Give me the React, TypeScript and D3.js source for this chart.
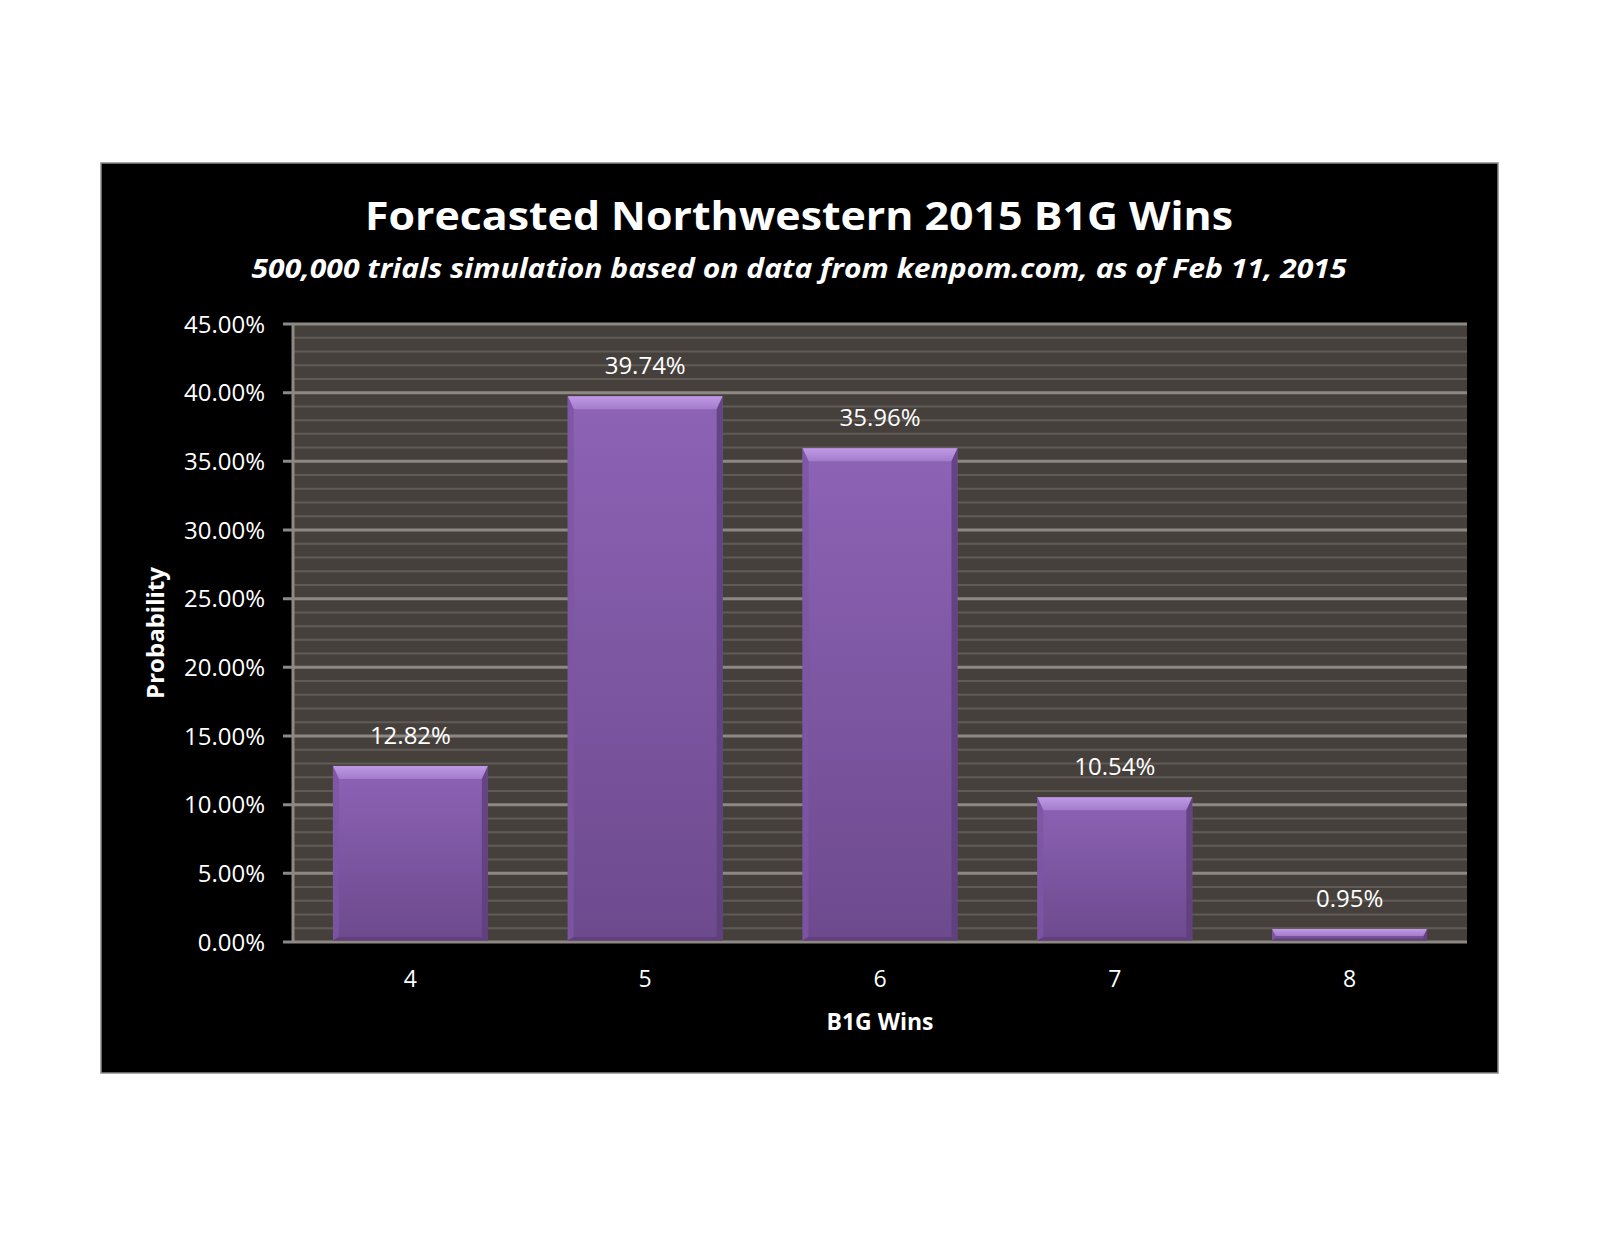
import React from "react";
import * as d3 from "d3";

const categories = ["4", "5", "6", "7", "8"];
const values = [12.82, 39.74, 35.96, 10.54, 0.95];
const yTicks = [0, 5, 10, 15, 20, 25, 30, 35, 40, 45];
const minorTicks = d3.range(0, 46, 1);

const W = 1600;
const H = 1237;
const panel = { x: 101, y: 163, w: 1397, h: 910 };
const plot = { left: 293, right: 1467, top: 324, bottom: 942 };
const FONT = "'Open Sans', 'Noto Sans', sans-serif";

export default function App() {
  const x = d3
    .scaleBand<string>()
    .domain(categories)
    .range([plot.left, plot.right])
    .paddingInner(0.34)
    .paddingOuter(0.17);
  const y = d3.scaleLinear().domain([0, 45]).range([plot.bottom, plot.top]);
  const fmt = (v: number) => v.toFixed(2) + "%";

  return (
    <svg
      width={W}
      height={H}
      viewBox={`0 0 ${W} ${H}`}
      style={{ position: "absolute", left: 0, top: 0, background: "#fff" }}
    >
      <defs>
        <linearGradient id="barFace" x1="0" y1="0" x2="0" y2="1">
          <stop offset="0%" stopColor="#8d63b6" />
          <stop offset="100%" stopColor="#6d4a8e" />
        </linearGradient>
        <linearGradient id="barTop" x1="0" y1="0" x2="0" y2="1">
          <stop offset="0%" stopColor="#c19ae6" />
          <stop offset="100%" stopColor="#a27bcb" />
        </linearGradient>
      </defs>
      <rect x={0} y={0} width={W} height={H} fill="#ffffff" />
      <rect
        x={panel.x}
        y={panel.y}
        width={panel.w}
        height={panel.h}
        fill="#000000"
        stroke="#8a8a8a"
        strokeWidth={1.5}
      />
      {/* plot background */}
      <rect
        x={plot.left}
        y={plot.top}
        width={plot.right - plot.left}
        height={plot.bottom - plot.top}
        fill="#45403c"
      />
      {/* minor gridlines */}
      {minorTicks
        .filter((t) => t % 5 !== 0)
        .map((t) => (
          <line
            key={"m" + t}
            x1={plot.left}
            x2={plot.right}
            y1={y(t)}
            y2={y(t)}
            stroke="#615b56"
            strokeWidth={2}
          />
        ))}
      {/* major gridlines */}
      {yTicks.map((t) => (
        <line
          key={"g" + t}
          x1={plot.left - 10}
          x2={plot.right}
          y1={y(t)}
          y2={y(t)}
          stroke="#8e8883"
          strokeWidth={3}
        />
      ))}
      {/* y axis line */}
      <line
        x1={plot.left}
        x2={plot.left}
        y1={plot.top}
        y2={plot.bottom}
        stroke="#8e8883"
        strokeWidth={3}
      />
      {/* bars */}
      {values.map((v, i) => {
        const bx = x(categories[i])!;
        const bw = x.bandwidth();
        const top = y(v);
        const bot = y(0) - 1.5;
        const h = bot - top;
        const bt = Math.min(13, h * 0.6);
        const bs = Math.min(6, h * 0.3);
        return (
          <g key={"b" + i}>
            <rect x={bx} y={top} width={bw} height={h} fill="url(#barFace)" />
            <polygon
              points={`${bx},${top} ${bx + bw},${top} ${bx + bw - bs},${top + bt} ${bx + bs},${top + bt}`}
              fill="url(#barTop)"
            />
            <polygon
              points={`${bx},${top} ${bx + bs},${top + bt} ${bx + bs},${bot - bs * 0.6} ${bx},${bot}`}
              fill="#7d56a3"
              opacity={0.85}
            />
            <polygon
              points={`${bx + bw},${top} ${bx + bw - bs},${top + bt} ${bx + bw - bs},${bot - bs * 0.6} ${bx + bw},${bot}`}
              fill="#5e3f7c"
              opacity={0.85}
            />
            <polygon
              points={`${bx},${bot} ${bx + bs},${bot - bs * 0.6} ${bx + bw - bs},${bot - bs * 0.6} ${bx + bw},${bot}`}
              fill="#5c3d78"
              opacity={0.8}
            />
            <text
              x={bx + bw / 2}
              y={top - 22}
              textAnchor="middle"
              fill="#ffffff"
              fontFamily={FONT}
              fontSize={24}
            >
              {fmt(v)}
            </text>
          </g>
        );
      })}
      {/* y tick labels */}
      {yTicks.map((t) => (
        <text
          key={"yl" + t}
          x={265}
          y={y(t)}
          dy="0.36em"
          textAnchor="end"
          fill="#ffffff"
          fontFamily={FONT}
          fontSize={24}
        >
          {fmt(t)}
        </text>
      ))}
      {/* x tick labels */}
      {categories.map((c) => (
        <text
          key={"xl" + c}
          x={x(c)! + x.bandwidth() / 2}
          y={987}
          textAnchor="middle"
          fill="#ffffff"
          fontFamily={FONT}
          fontSize={23}
        >
          {c}
        </text>
      ))}
      <text
        x={(plot.left + plot.right) / 2}
        y={1030}
        textAnchor="middle"
        fill="#ffffff"
        fontFamily={FONT}
        fontWeight="bold"
        fontSize={23}
      >
        B1G Wins
      </text>
      <text
        transform={`translate(164,633) rotate(-90)`}
        textAnchor="middle"
        fill="#ffffff"
        fontFamily={FONT}
        fontWeight="bold"
        fontSize={24}
      >
        Probability
      </text>
      <text
        x={799}
        y={230}
        textAnchor="middle"
        fill="#ffffff"
        fontFamily={FONT}
        fontWeight="bold"
        fontSize={40}
        textLength={868}
        lengthAdjust="spacingAndGlyphs"
      >
        Forecasted Northwestern 2015 B1G Wins
      </text>
      <text
        x={799}
        y={278}
        textAnchor="middle"
        fill="#ffffff"
        fontFamily={FONT}
        fontWeight="bold"
        fontStyle="italic"
        fontSize={26}
        textLength={1095}
        lengthAdjust="spacingAndGlyphs"
      >
        500,000 trials simulation based on data from kenpom.com, as of Feb 11, 2015
      </text>
    </svg>
  );
}
